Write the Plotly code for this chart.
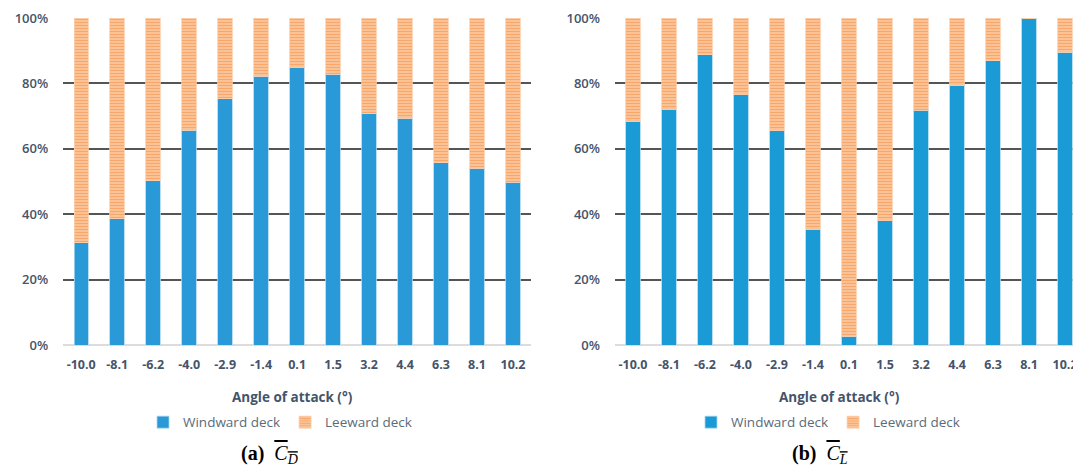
import plotly.graph_objects as go

angles = ["-10.0", "-8.1", "-6.2", "-4.0", "-2.9", "-1.4", "0.1", "1.5", "3.2", "4.4", "6.3", "8.1", "10.2"]
cd_windward = [31.3, 38.6, 50.3, 65.6, 75.3, 82.2, 85.0, 82.8, 70.7, 69.3, 55.8, 54.1, 49.7]
cd_leeward = [round(100 - v, 1) for v in cd_windward]
cl_windward = [68.3, 72.1, 88.7, 76.5, 65.5, 35.2, 2.7, 38.0, 71.8, 79.4, 87.0, 100.0, 89.6]
cl_leeward = [round(100 - v, 1) for v in cl_windward]
y_ticks = [0, 20, 40, 60, 80, 100]
y_ticktext = ["0%", "20%", "40%", "60%", "80%", "100%"]

W, H = 1073, 470
MT, MB = 18, 124.5
PH = H - MT - MB

def py(p):
    return (H - MB - p) / PH

BLUE_L = "#2a99d7"
BLUE_R = "#1a9bd6"
ORANGE = "#f47a20"
ORANGE_BG = "#fcd3b3"
TXT = "#44546a"
FONT = "Open Sans"

fig = go.Figure()

def add(x, wind, lee, xa, ya, legend, color):
    fig.add_trace(go.Bar(x=x, y=wind, name="Windward deck", xaxis=xa, yaxis=ya, legend=legend,
                         marker=dict(color=color, line=dict(color="#a9d6f0", width=0.8))))
    fig.add_trace(go.Bar(x=x, y=lee, name="Leeward deck", xaxis=xa, yaxis=ya, legend=legend,
                         marker=dict(color=ORANGE_BG, line=dict(color="#fbcfae", width=0.8),
                                     pattern=dict(shape="-", fgcolor=ORANGE, bgcolor=ORANGE_BG,
                                                  size=3, solidity=0.6, fillmode="overlay"))))

add(angles, cd_windward, cd_leeward, "x", "y", "legend", BLUE_L)
add(angles, cl_windward, cl_leeward, "x2", "y2", "legend2", BLUE_R)

xcommon = dict(type="category", showgrid=False, zeroline=False, showline=False, automargin=False,
               tickfont=dict(family=FONT, size=12.5, color=TXT, weight=700),
               ticks="", ticklabelstandoff=10)
ycommon = dict(range=[0, 100], tickvals=y_ticks, ticktext=y_ticktext, showgrid=True, automargin=False,
               gridcolor="#555555", gridwidth=1.5, zeroline=True, zerolinecolor="#dcdcdc",
               zerolinewidth=2, showline=False, ticks="", ticklabelstandoff=14,
               tickfont=dict(family=FONT, size=13, color=TXT, weight=600))

x1d = [63.2 / W, 531 / W]
x2d = [615 / W, 1.0]
leg = dict(orientation="h", y=py(423), xanchor="center", yanchor="middle", traceorder="normal",
           font=dict(family=FONT, size=13.5, color="#5b6b7b"), itemwidth=30,
           tracegroupgap=0, bgcolor="rgba(0,0,0,0)")
fig.update_layout(
    width=W, height=H, margin=dict(l=0, r=0, t=MT, b=MB, autoexpand=False),
    paper_bgcolor="white", plot_bgcolor="white",
    barmode="stack", bargap=0.6,
    xaxis=dict(domain=x1d, range=[-0.5, 12.5], **xcommon),
    yaxis=dict(domain=[0, 1], anchor="x", **ycommon),
    xaxis2=dict(domain=x2d, anchor="y2", range=[-0.5, 12.22], **xcommon),
    yaxis2=dict(domain=[0, 1], anchor="x2", **ycommon),
    legend=dict(x=280 / W, **leg),
    legend2=dict(x=828 / W, **leg),
    showlegend=True,
)

title_font = dict(family=FONT, size=13.5, color=TXT, weight=700)
cap_font = dict(family="Liberation Serif", size=20, color="#000000")
fig.add_annotation(text="Angle of attack (°)", x=292 / W, y=py(398), xref="paper", yref="paper",
                   showarrow=False, font=title_font, xanchor="center", yanchor="middle")
fig.add_annotation(text="Angle of attack (°)", x=839 / W, y=py(398), xref="paper", yref="paper",
                   showarrow=False, font=title_font, xanchor="center", yanchor="middle")
fig.add_annotation(text="<b>(a)</b>  <span style='text-decoration:overline'><i>C<sub>D</sub></i></span>",
                   x=269 / W, y=py(455), xref="paper", yref="paper",
                   showarrow=False, font=cap_font, xanchor="center", yanchor="middle")
fig.add_annotation(text="<b>(b)</b>  <span style='text-decoration:overline'><i>C<sub>L</sub></i></span>",
                   x=820 / W, y=py(455), xref="paper", yref="paper",
                   showarrow=False, font=cap_font, xanchor="center", yanchor="middle")

fig.write_html("out.html")
